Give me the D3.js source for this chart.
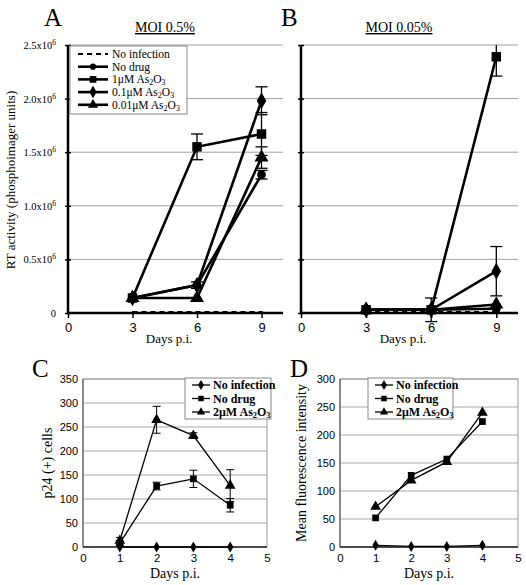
<!DOCTYPE html>
<html><head><meta charset="utf-8">
<script src="https://cdn.jsdelivr.net/npm/d3@7"></script>
<style>
body{margin:0;background:#fff;}
svg{display:block;}
</style></head>
<body><svg id="c" width="526" height="585"></svg>
<script>
// ---- Data ----
const daysAB = [3, 6, 9];
const ticksAB_x = [0, 3, 6, 9];
const ticksAB_y = [0, 0.5, 1.0, 1.5, 2.0, 2.5];
// Panel A (MOI 0.5%), values in 10^6 phosphoimager units
const noInfA  = [0.01, 0.01, 0.01];
const noDrugA = [0.14, 0.26, 1.29];
const as1A    = [0.14, 1.55, 1.67];
const as01A   = [0.14, 0.26, 1.98];
const as001A  = [0.14, 0.14, 1.45];
const errNoDrugA = [0.01, 0.02, 0.04];
const errAs1A    = [0.02, 0.12, 0.20];
const errAs01A   = [0.01, 0.03, 0.13];
const errAs001A  = [0.01, 0.01, 0.10];
// Panel B (MOI 0.05%)
const noInfB  = [0.01, 0.01, 0.01];
const noDrugB = [0.03, 0.03, 0.04];
const as1B    = [0.03, 0.03, 2.39];
const as01B   = [0.03, 0.03, 0.39];
const as001B  = [0.03, 0.03, 0.08];
const errAs1B  = [0.005, 0.01, 0.18];
const errAs01B = [0.005, 0.11, 0.23];
// Panel C
const daysCD = [1, 2, 3, 4];
const ticksCD_x = [0, 1, 2, 3, 4, 5];
const ticksC_y = [0, 50, 100, 150, 200, 250, 300, 350];
const noInfC  = [0, 0, 0, 0];
const noDrugC = [8, 127, 142, 87];
const as2C    = [13, 265, 232, 128];
const errNoDrugC = [5, 8, 18, 14];
const errAs2C    = [7, 28, 6, 33];
// Panel D
const ticksD_y = [0, 50, 100, 150, 200, 250, 300];
const noInfD  = [3, 1, 1, 3];
const noDrugD = [52, 128, 157, 224];
const as2D    = [72, 119, 152, 240];

const SERIF = "'Liberation Serif','Times New Roman','DejaVu Serif',serif";
const SANS = "'Liberation Sans',Arial,'DejaVu Sans',sans-serif";
const svg = d3.select("#c");

function sym(type, size){
  const t = {circle:d3.symbolCircle, square:d3.symbolSquare, diamond:d3.symbolDiamond, triangle:d3.symbolTriangle}[type];
  return d3.symbol().type(t).size(size)();
}
function asText(sel, prefix){
  sel.append("tspan").text(prefix + "As");
  sel.append("tspan").attr("dy", 2).attr("font-size","0.7em").text("2");
  sel.append("tspan").attr("dy", -2).text("O");
  sel.append("tspan").attr("dy", 2).attr("font-size","0.7em").text("3");
}

// ---------- Panels A & B ----------
function panelAB(opt){
  const x = d3.scaleLinear().domain([0,10]).range([opt.x0, opt.x1]);
  const y = d3.scaleLinear().domain([0,2.5]).range([313, 45]);
  const g = svg.append("g");
  g.selectAll("line.grid").data(ticksAB_y.slice(1)).join("line")
    .attr("x1", x(0)).attr("x2", x(10)).attr("y1", d=>y(d)).attr("y2", d=>y(d))
    .attr("stroke","#a0a0a0").attr("stroke-width",1);
  const ya = g.append("g").attr("transform",`translate(${x(0)},0)`)
    .call(d3.axisLeft(y).tickValues(ticksAB_y).tickSize(4).tickFormat(""));
  ya.select(".domain").remove();
  ya.selectAll(".tick line").attr("x1",-3).attr("x2",3).attr("stroke","#000").attr("stroke-width",1.5);
  g.append("line").attr("x1",x(0)).attr("x2",x(0)).attr("y1",y(2.5)).attr("y2",y(0)).attr("stroke","#000").attr("stroke-width",2.5);
  if(opt.ylabels){
    ticksAB_y.forEach(v=>{
      const t = g.append("text").style("font-family",SERIF).attr("x", x(0)-12).attr("y", y(v)+4)
        .attr("text-anchor","end").attr("font-size",10.5);
      if(v===0){ t.text("0"); }
      else {
        t.append("tspan").text(v.toFixed(1)+"x10");
        t.append("tspan").attr("dy",-4).attr("font-size",7.5).text("6");
      }
    });
  }
  const xa = g.append("g").attr("transform",`translate(0,${y(0)})`)
    .call(d3.axisBottom(x).tickValues(ticksAB_x).tickSize(5).tickFormat(d3.format("d")));
  xa.select(".domain").remove();
  xa.selectAll(".tick line").attr("stroke","#000").attr("stroke-width",1.5).attr("y1",-2);
  xa.selectAll(".tick text").style("font-family",SANS).attr("font-size",13).attr("fill","#000").attr("dy","0.85em");
  g.append("line").attr("x1",x(0)-1).attr("x2",x(10)).attr("y1",y(0)).attr("y2",y(0)).attr("stroke","#000").attr("stroke-width",2.5);
  g.append("text").style("font-family",SERIF).attr("x",(x(0)+x(9.4))/2).attr("y",343).attr("text-anchor","middle")
    .attr("font-size",13).text("Days p.i.");
  g.append("text").style("font-family",SERIF).attr("x",opt.tx).attr("y",32).attr("text-anchor","middle")
    .attr("font-size",14).attr("text-decoration","underline").text(opt.title);
  g.append("text").style("font-family",SERIF).attr("x",opt.lx).attr("y",26).attr("font-size",25).text(opt.letter);

  const line = d3.line().x((d,i)=>x(daysAB[i])).y(d=>y(d));
  opt.series.forEach(s=>{
    g.append("path").datum(s.v).attr("d",line).attr("fill","none").attr("stroke","#000")
      .attr("stroke-width", s.dash?2:2.6).attr("stroke-dasharray", s.dash?"5,4":null);
    if(s.err){
      s.v.forEach((v,i)=>{
        const e=s.err[i]; if(e<0.03) return;
        const cx=x(daysAB[i]);
        const top=Math.min(2.5, v+e);
        g.append("line").attr("x1",cx).attr("x2",cx).attr("y1",y(top)).attr("y2",y(v-e)).attr("stroke","#000").attr("stroke-width",1.3);
        [v+e, v-e].forEach(w=>{ if(w<=2.5) g.append("line").attr("x1",cx-6).attr("x2",cx+6).attr("y1",y(w)).attr("y2",y(w)).attr("stroke","#000").attr("stroke-width",1.3);});
      });
    }
    if(s.m){
      g.selectAll(null).data(s.v).join("path").attr("d",sym(s.m, s.m==="square"?90:(s.m==="triangle"?85:(s.m==="diamond"?80:60))))
        .attr("transform",(d,i)=>`translate(${x(daysAB[i])},${y(d)})`).attr("fill","#000");
    }
  });
}

const seriesA = [
  {v:noInfA, dash:true},
  {v:noDrugA, m:"circle", err:errNoDrugA},
  {v:as1A, m:"square", err:errAs1A},
  {v:as01A, m:"diamond", err:errAs01A},
  {v:as001A, m:"triangle", err:errAs001A}
];
panelAB({x0:68, x1:283, ylabels:true, title:"MOI 0.5%", tx:165, letter:"A", lx:44, series:seriesA});
const seriesB = [
  {v:noInfB, dash:true},
  {v:noDrugB, m:"circle"},
  {v:as001B, m:"triangle"},
  {v:as01B, m:"diamond", err:errAs01B},
  {v:as1B, m:"square", err:errAs1B}
];
panelAB({x0:301, x1:518, ylabels:false, title:"MOI 0.05%", tx:399, letter:"B", lx:281, series:seriesB});

svg.append("text").style("font-family",SERIF).attr("transform","translate(15,180) rotate(-90)")
  .attr("text-anchor","middle").attr("font-size",13).text("RT activity (phosphoimager units)");

// Legend A
(function(){
  const g = svg.append("g");
  g.append("rect").attr("x",70).attr("y",46).attr("width",117).attr("height",68).attr("fill","#fff").attr("stroke","#888").attr("stroke-width",1);
  const items = [
    {t:"No infection", dash:true},
    {t:"No drug", m:"circle"},
    {t:"1\u03BCM ", m:"square", as:true},
    {t:"0.1\u03BCM ", m:"diamond", as:true},
    {t:"0.01\u03BCM ", m:"triangle", as:true}
  ];
  items.forEach((it,i)=>{
    const yy = 54 + i*12.7;
    g.append("line").attr("x1",78).attr("x2",108).attr("y1",yy).attr("y2",yy).attr("stroke","#000")
      .attr("stroke-width", it.dash?2:2.6).attr("stroke-dasharray", it.dash?"5,4":null);
    if(it.m) g.append("path").attr("d",sym(it.m, it.m==="circle"?30:45)).attr("transform",`translate(93,${yy})`);
    const t = g.append("text").style("font-family",SERIF).attr("x",112).attr("y",yy+4).attr("font-size",11.5);
    if(it.as) asText(t, it.t); else t.text(it.t);
  });
})();

// ---------- Panels C & D ----------
function panelCD(opt){
  const x = d3.scaleLinear().domain([0,5]).range([opt.x0, opt.x1]);
  const y = d3.scaleLinear().domain([0,opt.ymax]).range([547, 379]);
  const g = svg.append("g");
  g.selectAll(null).data(opt.yt.slice(1)).join("line")
    .attr("x1",x(0)).attr("x2",x(5)).attr("y1",d=>y(d)).attr("y2",d=>y(d)).attr("stroke","#a8a8a8").attr("stroke-width",1);
  g.append("rect").attr("x",x(0)).attr("y",y(opt.ymax)).attr("width",x(5)-x(0)).attr("height",y(0)-y(opt.ymax))
    .attr("fill","none").attr("stroke","#9a9a9a").attr("stroke-width",1);
  g.append("line").attr("x1",x(0)).attr("x2",x(0)).attr("y1",y(opt.ymax)).attr("y2",y(0)).attr("stroke","#666").attr("stroke-width",1.3);
  g.append("line").attr("x1",x(0)).attr("x2",x(5)).attr("y1",y(0)).attr("y2",y(0)).attr("stroke","#222").attr("stroke-width",1.5);
  const ya = g.append("g").attr("transform",`translate(${x(0)},0)`)
    .call(d3.axisLeft(y).tickValues(opt.yt).tickSize(0).tickPadding(5));
  ya.select(".domain").remove();
  ya.selectAll(".tick text").style("font-family",SANS).attr("font-size",11).attr("fill","#000");
  const xa = g.append("g").attr("transform",`translate(0,${y(0)})`)
    .call(d3.axisBottom(x).tickValues(ticksCD_x).tickSize(0).tickPadding(7).tickFormat(d3.format("d")));
  xa.select(".domain").remove();
  xa.selectAll(".tick text").style("font-family",SANS).attr("font-size",11.5).attr("fill","#000");
  g.append("text").style("font-family",SERIF).attr("x",(x(0)+x(5))/2).attr("y",578).attr("text-anchor","middle").attr("font-size",14).text("Days p.i.");
  g.append("text").style("font-family",SERIF).attr("transform",`translate(${opt.ytx},${(y(0)+y(opt.ymax))/2}) rotate(-90)`)
    .attr("text-anchor","middle").attr("font-size",14).text(opt.ytitle);
  g.append("text").style("font-family",SERIF).attr("x",opt.lx).attr("y",377).attr("font-size",25).text(opt.letter);

  const line = d3.line().x((d,i)=>x(daysCD[i])).y(d=>y(d));
  opt.series.forEach(s=>{
    g.append("path").datum(s.v).attr("d",line).attr("fill","none").attr("stroke","#000").attr("stroke-width",1.3);
    if(s.err){
      s.v.forEach((v,i)=>{
        const e=s.err[i]; const cx=x(daysCD[i]);
        g.append("line").attr("x1",cx).attr("x2",cx).attr("y1",y(v+e)).attr("y2",y(Math.max(0,v-e))).attr("stroke","#000").attr("stroke-width",1);
        [v+e, Math.max(0,v-e)].forEach(w=>g.append("line").attr("x1",cx-4).attr("x2",cx+4).attr("y1",y(w)).attr("y2",y(w)).attr("stroke","#000").attr("stroke-width",1));
      });
    }
    g.selectAll(null).data(s.v).join("path").attr("d",sym(s.m, s.m==="diamond"?35:(s.m==="square"?45:50)))
      .attr("transform",(d,i)=>`translate(${x(daysCD[i])},${y(d)})`).attr("fill","#000");
  });
  const lg = svg.append("g");
  lg.append("rect").attr("x",opt.lgx).attr("y",378).attr("width",opt.lgw).attr("height",41).attr("fill","#fff").attr("stroke","#888");
  const items=[{t:"No infection",m:"diamond"},{t:"No drug",m:"square"},{t:"2\u03BCM ",m:"triangle",as:true}];
  items.forEach((it,i)=>{
    const yy=385+i*13.5;
    lg.append("line").attr("x1",opt.lgx+7).attr("x2",opt.lgx+25).attr("y1",yy).attr("y2",yy).attr("stroke","#000").attr("stroke-width",1.3);
    lg.append("path").attr("d",sym(it.m, 30)).attr("transform",`translate(${opt.lgx+16},${yy})`);
    const t=lg.append("text").style("font-family",SERIF).attr("x",opt.lgx+28).attr("y",yy+4).attr("font-size",12).attr("font-weight","bold");
    if(it.as) asText(t,it.t); else t.text(it.t);
  });
}
panelCD({x0:83, x1:267, ymax:350, yt:ticksC_y, ytitle:"p24 (+) cells", ytx:52, letter:"C", lx:32, lgx:185, lgw:86,
  series:[{v:noInfC,m:"diamond"},{v:noDrugC,m:"square",err:errNoDrugC},{v:as2C,m:"triangle",err:errAs2C}]});
panelCD({x0:340, x1:518, ymax:300, yt:ticksD_y, ytitle:"Mean fluorescence intensity", ytx:306, letter:"D", lx:290, lgx:368, lgw:85,
  series:[{v:noInfD,m:"diamond"},{v:noDrugD,m:"square"},{v:as2D,m:"triangle"}]});
</script></body></html>
